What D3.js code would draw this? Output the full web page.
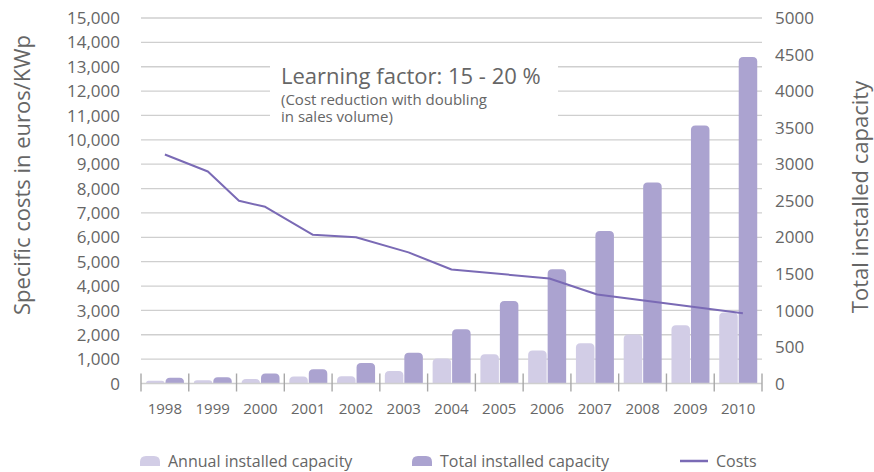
<!DOCTYPE html>
<html>
<head>
<meta charset="utf-8">
<script src="https://cdn.jsdelivr.net/npm/d3@7"></script>
<style>
  html, body { margin: 0; padding: 0; background: #fff; }
  svg { display: block; font-family: "Open Sans", "Noto Sans", sans-serif; }
</style>
</head>
<body>
<svg id="chart" width="874" height="472"></svg>
<script>
// ---- data ----
const years = ["1998","1999","2000","2001","2002","2003","2004","2005","2006","2007","2008","2009","2010"];
const annualCapacity = [36, 45, 63, 96, 100, 172, 342, 401, 452, 552, 671, 798, 972];
const totalCapacity  = [77, 86, 137, 196, 282, 419, 743, 1127, 1562, 2085, 2750, 3530, 4465];
// cost curve vertices (position in years, euros per kWp)
const costYears  = [1998, 1998.9, 1999.55, 2000.1, 2001.1, 2002, 2003.1, 2004, 2006.05, 2007.05, 2010.1];
const costValues = [9400, 8700, 7500, 7250, 6100, 6000, 5380, 4680, 4310, 3650, 2880];
const leftTicks  = [0,1000,2000,3000,4000,5000,6000,7000,8000,9000,10000,11000,12000,13000,14000,15000];
const rightTicks = [0,500,1000,1500,2000,2500,3000,3500,4000,4500,5000];

const colors = { annual: "#d2cde6", total: "#aba3d0", cost: "#7a6ab5", text: "#666666", grid: "#cfcfcf", tick: "#a8a8a8" };

const svg = d3.select("#chart");
const plot = { left: 141, right: 762, top: 18, bottom: 383.5 };

// ---- scales ----
const x = d3.scaleBand().domain(years).range([plot.left, plot.right]).padding(0);
const xs = d3.scaleBand().domain(["annual","total"]).range([5, 43]).paddingInner(0.05);
const xYear = d3.scaleLinear().domain([1998, 2010])
  .range([x("1998") + x.bandwidth()/2, x("2010") + x.bandwidth()/2]);
const yLeft = d3.scaleLinear().domain([0, 15000]).range([plot.bottom, plot.top]);
const yRight = d3.scaleLinear().domain([0, 5000]).range([plot.bottom, plot.top]);

// ---- gridlines ----
svg.append("g").selectAll("line").data(leftTicks.slice(1)).join("line")
  .attr("x1", plot.left).attr("x2", plot.right)
  .attr("y1", d => yLeft(d)).attr("y2", d => yLeft(d))
  .attr("stroke", colors.grid).attr("stroke-width", 1.3);

// ---- annotation background (masks grid) ----
svg.append("rect").attr("x", 270).attr("y", 52).attr("width", 288).attr("height", 76).attr("fill", "#fff");

// ---- bars ----
function topRounded(x0, y0, w, h, r) {
  r = Math.min(r, h, w / 2);
  const yTop = y0 - h;
  return `M${x0},${y0}V${yTop + r}Q${x0},${yTop} ${x0 + r},${yTop}H${x0 + w - r}Q${x0 + w},${yTop} ${x0 + w},${yTop + r}V${y0}Z`;
}
const barData = years.map((yr, i) => ({ yr, annual: annualCapacity[i], total: totalCapacity[i] }));
const bars = svg.append("g");
["annual","total"].forEach(key => {
  bars.selectAll(null).data(barData).join("path")
    .attr("fill", colors[key])
    .attr("d", d => topRounded(x(d.yr) + xs(key), yRight(0), xs.bandwidth(), yRight(0) - yRight(d[key]), 4.5));
});

// ---- x axis ----
const xAxis = svg.append("g");
xAxis.append("line").attr("x1", plot.left).attr("x2", plot.right)
  .attr("y1", plot.bottom).attr("y2", plot.bottom)
  .attr("stroke", colors.grid).attr("stroke-width", 1.3);
const boundaries = years.map(d => x(d)).concat([plot.right]);
xAxis.selectAll("line.tk").data(boundaries).join("line").attr("class", "tk")
  .attr("x1", d => d).attr("x2", d => d)
  .attr("y1", plot.bottom - 10).attr("y2", plot.bottom + 8)
  .attr("stroke", colors.tick).attr("stroke-width", 1.4);
xAxis.selectAll("text").data(years).join("text")
  .attr("x", d => x(d) + x.bandwidth()/2).attr("y", 414)
  .attr("text-anchor", "middle").attr("font-size", 15).attr("fill", colors.text)
  .text(d => d);

// ---- cost line ----
const costPts = costYears.map((yr, i) => [yr, costValues[i]]);
svg.append("path").datum(costPts)
  .attr("fill", "none").attr("stroke", colors.cost).attr("stroke-width", 2)
  .attr("stroke-linejoin", "round")
  .attr("d", d3.line().x(d => xYear(d[0])).y(d => yLeft(d[1])));

// ---- y axes labels ----
const fmt = d3.format(",");
svg.append("g").selectAll("text").data(leftTicks).join("text")
  .attr("x", 120).attr("y", d => yLeft(d)).attr("dy", "0.36em")
  .attr("text-anchor", "end").attr("font-size", 17).attr("fill", colors.text)
  .text(d => fmt(d));
svg.append("g").selectAll("text").data(rightTicks).join("text")
  .attr("x", 775).attr("y", d => yRight(d)).attr("dy", "0.36em")
  .attr("text-anchor", "start").attr("font-size", 17).attr("fill", colors.text)
  .text(d => d);

// ---- axis titles ----
svg.append("text").attr("transform", "translate(30,175) rotate(-90)")
  .attr("text-anchor", "middle").attr("font-size", 22).attr("fill", colors.text)
  .text("Specific costs in euros/KWp");
svg.append("text").attr("transform", "translate(868,197) rotate(-90)")
  .attr("text-anchor", "middle").attr("font-size", 22).attr("fill", colors.text)
  .text("Total installed capacity");

// ---- annotation ----
const note = svg.append("g").attr("fill", colors.text);
note.append("text").attr("x", 281).attr("y", 84).attr("font-size", 22).text("Learning factor: 15 - 20 %");
const sub = note.append("text").attr("x", 281).attr("y", 105).attr("font-size", 15);
sub.append("tspan").attr("x", 281).text("(Cost reduction with doubling");
sub.append("tspan").attr("x", 281).attr("dy", 17).text("in sales volume)");

// ---- legend ----
const legend = svg.append("g");
const legendItems = [
  { label: "Annual installed capacity", color: colors.annual, type: "bar", x: 140 },
  { label: "Total installed capacity", color: colors.total, type: "bar", x: 412 },
  { label: "Costs", color: colors.cost, type: "line", x: 680 }
];
legendItems.forEach(it => {
  if (it.type === "bar") {
    legend.append("path").attr("fill", it.color).attr("d", topRounded(it.x, 466, 20, 10, 6));
    legend.append("text").attr("x", it.x + 28).attr("y", 467).attr("font-size", 16)
      .attr("fill", colors.text).text(it.label);
  } else {
    legend.append("line").attr("x1", it.x).attr("x2", it.x + 28).attr("y1", 461).attr("y2", 461)
      .attr("stroke", it.color).attr("stroke-width", 2.5);
    legend.append("text").attr("x", it.x + 36).attr("y", 467).attr("font-size", 16)
      .attr("fill", colors.text).text(it.label);
  }
});
</script>
</body>
</html>
